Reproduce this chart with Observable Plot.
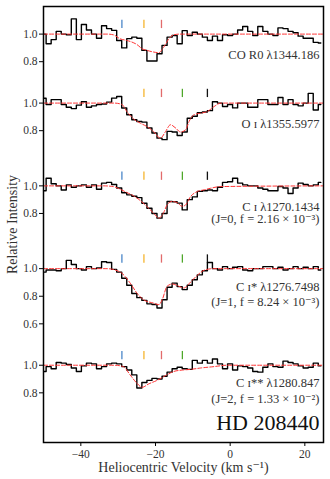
<!DOCTYPE html>
<html><head><meta charset="utf-8">
<script src="https://cdn.jsdelivr.net/npm/d3@7"></script>
<script src="https://cdn.jsdelivr.net/npm/@observablehq/plot@0.6"></script>
<style>body{margin:0;background:#fff} svg{display:block}</style>
</head><body><div id="chart"></div>
<script>
// velocity bin centres (km/s), 1.35 km/s pixels
const velocity = d3.range(56).map(i => -49.975 + 1.35 * i);

const specCO = [1.0,0.93,0.96,1.02,1.0,0.995,1.11,0.96,1.07,1.03, 1.0,0.97,1.06,1.04,1.027,0.954,0.90,0.967,0.978,0.97, 0.882,0.805,0.805,0.858,0.918,0.978,0.99,0.93,1.025,0.99, 1.013,1.0,0.978,0.954,0.985,0.954,0.995,0.99,1.0,1.03, 1.055,1.02,0.99,1.055,1.02,1.0,0.99,1.045,1.04,1.02, 1.01,0.985,0.97,0.97,0.94,0.935];
const specOI = [1.035,0.99,1.025,1.025,0.99,0.97,0.96,0.985,1.01,0.97, 0.98,0.99,0.993,1.007,1.036,1.048,0.964,0.915,0.879,0.867, 0.862,0.819,0.783,0.746,0.735,0.795,0.79,0.765,0.79,0.89, 0.905,0.93,0.935,0.945,1.01,1.0,0.975,0.99,0.965,1.0, 1.0,0.97,0.97,1.025,1.025,0.99,0.99,1.04,0.99,1.025, 0.99,0.98,1.0,1.07,0.95,0.99];
const specCI = [0.965,1.055,1.015,1.0,0.97,1.007,0.99,1.0,1.007,0.99, 1.007,0.975,1.02,1.025,1.01,0.985,0.95,0.935,0.925,0.915, 0.874,0.838,0.80,0.766,0.80,0.887,0.885,0.875,0.826,0.9, 0.92,0.96,0.965,0.97,0.965,0.99,1.025,1.03,1.055,1.02, 1.007,1.0,1.0,0.985,0.975,0.965,0.965,0.995,0.985,0.945, 0.985,1.02,1.01,1.0,1.007,1.025];
const specCIs = [0.975,0.99,0.99,0.985,1.0,1.06,1.03,1.0,0.99,1.015, 1.0,1.005,1.05,1.045,0.995,0.975,0.93,0.88,0.82,0.79, 0.77,0.745,0.74,0.715,0.775,0.865,0.895,0.87,0.848,0.88, 0.92,0.955,0.985,1.045,1.0,0.99,1.015,1.0,1.01,1.015, 0.99,0.985,1.0,1.0,1.015,1.015,1.0,1.01,0.99,1.0, 1.015,1.0,1.01,1.0,1.015,0.99];
const specCIss = [0.955,0.99,0.975,1.02,1.015,1.005,0.98,0.955,0.995,1.015, 1.01,0.975,0.99,1.01,1.015,1.01,0.99,0.965,0.93,0.835, 0.875,0.89,0.905,0.9,0.92,0.95,0.975,0.985,0.975,0.97, 1.035,1.015,1.035,1.015,1.045,1.01,0.975,1.01,0.965,0.995, 0.99,0.98,0.955,0.95,0.985,1.01,0.99,0.985,1.03,1.02, 1.01,0.995,0.98,0.985,1.015,0.995];

// model fits (velocity, intensity)
const fitCOv = [-50,-33,-31.3,-29.5,-27.7,-26.3,-24.9,-23.6,-22.3,-20.5,-19.1,-17.8,-16.4,-15.1,-13.5,25];
const fitCO  = [1,1,0.995,0.966,0.954,0.942,0.923,0.894,0.882,0.87,0.865,0.906,0.966,0.995,1,1];
const fitOIv = [-50,-31,-29.0,-27.7,-25.9,-24.1,-22.3,-20.5,-18.7,-17.3,-16.0,-14.6,-13.3,-11.9,-11.0,-9.7,-7.9,-6.1,-4.3,-2.5,25];
const fitOI  = [1,1,0.99,0.94,0.886,0.855,0.83,0.794,0.745,0.794,0.843,0.819,0.79,0.807,0.867,0.915,0.927,0.939,0.975,1,1];
const fitCIv = [-50,-34,-31.3,-29.5,-27.7,-25.9,-24.1,-22.3,-20.5,-19.1,-17.8,-16.9,-15.6,-14.2,-12.9,-12.0,-10.6,-8.8,-7.0,-5.2,-2.5,25];
const fitCI  = [1,1,0.995,0.976,0.952,0.928,0.894,0.85,0.802,0.766,0.807,0.862,0.887,0.879,0.852,0.86,0.923,0.959,0.971,0.983,0.995,1];
const fitCIsv = [-50,-33,-29.5,-26.8,-25,-23.2,-20.5,-19.1,-18.2,-16.9,-15.5,-13.7,-12.4,-10.6,-8.8,-7,-4.5,25];
const fitCIs  = [1,1,0.976,0.896,0.824,0.775,0.75,0.739,0.775,0.872,0.889,0.872,0.86,0.903,0.952,0.988,1,1];
const fitCIssv = [-50,-31,-28.6,-26.8,-25,-23.6,-21.8,-19.6,-17.3,-15.1,-12.8,-10.6,-7.9,-4.3,-1,25];
const fitCIss  = [1,1,0.99,0.93,0.87,0.84,0.865,0.89,0.925,0.955,0.965,0.97,0.98,0.99,1,1];

// velocity components
const compV = [-29.0, -23.1, -18.4, -12.8, -6.1];
const compColors = ["#4a86c8", "#f5b52e", "#e26b6b", "#4ea72a", "#111111"];

const panelOffsets = [0, 0.5, 1.1, 1.7, 2.4];
const panelLine1 = ["CO R0 λ1344.186", "O ɪ λ1355.5977", "C ɪ λ1270.1434", "C ɪ* λ1276.7498", "C ɪ** λ1280.847"];
const panelLine2 = ["", "", "(J=0, f = 2.16 × 10⁻³)", "(J=1, f = 8.24 × 10⁻³)", "(J=2, f = 1.33 × 10⁻²)"];
const panelTicks = [[1.0, 0.8], [1.0, 0.8], [1.0, 0.8], [1.0, 0.8, 0.6], [1.0, 0.8]];
const panelComps = [[0,1,2], [1,2,3,4], [0,1,2,3,4], [0,1,2,3,4], [0,1,2,3]];
const xTicks = [-40, -20, 0, 20];
const starName = "HD 208440";
const xLabel = "Heliocentric Velocity (km s⁻¹)";
const yLabel = "Relative Intensity";

const spectra = [specCO, specOI, specCI, specCIs, specCIss];
const fitsV = [fitCOv, fitOIv, fitCIv, fitCIsv, fitCIssv];
const fitsI = [fitCO, fitOI, fitCI, fitCIs, fitCIss];

const specData = spectra.flatMap((s, p) => s.map((v, i) => ({p, v: velocity[i], y: v - panelOffsets[p]})));
const fitData = fitsI.flatMap((f, p) => f.map((v, i) => ({p, v: fitsV[p][i], y: v - panelOffsets[p]})));
const compData = panelComps.flatMap((cs, p) => cs.map(c => ({p, v: compV[c], color: compColors[c], y1: 1.04 - panelOffsets[p], y2: 1.1 - panelOffsets[p]})));
const tickMap = new Map();
panelTicks.forEach((ts, p) => ts.forEach(t => tickMap.set(t - panelOffsets[p], d3.format(".1f")(t))));
const yTickPos = [...tickMap.keys()];
const lab1 = panelLine1.map((t, p) => ({t, y: (p >= 3 ? 0.87 : 0.85) - panelOffsets[p]}));
const lab2 = panelLine2.map((t, p) => ({t, y: 0.757 - panelOffsets[p]})).filter(d => d.t);

const font = "'Liberation Serif', 'DejaVu Serif', serif";
const chart = Plot.plot({
  width: 330, height: 479,
  marginLeft: 43, marginRight: 7, marginTop: 6, marginBottom: 37,
  style: {fontFamily: font, fontSize: "11px", color: "#333", background: "#fff"},
  x: {domain: [-50, 25]},
  y: {domain: [-1.96, 1.2]},
  marks: [
    Plot.axisX({ticks: xTicks, tickSize: 4, tickPadding: 3, fontSize: 11.5, label: null, stroke: "#000"}),
    Plot.axisY({ticks: yTickPos, tickFormat: d => tickMap.get(d), tickSize: 4, tickPadding: 2, fontSize: 11.5, label: null, stroke: "#000"}),
    Plot.text([xLabel], {text: d => d, frameAnchor: "bottom", lineAnchor: "middle", dy: 25, fontSize: 14, fill: "#333"}),
    Plot.text([yLabel], {text: d => d, frameAnchor: "left", rotate: -90, textAnchor: "middle", lineAnchor: "middle", dx: -31, fontSize: 14, fill: "#333"}),
    Plot.ruleX(compData, {x: "v", y1: "y1", y2: "y2", stroke: "color", strokeWidth: 1.3}),
    Plot.line(specData, {x: "v", y: "y", z: "p", curve: "step", stroke: "#000", strokeWidth: 1.4}),
    Plot.line(fitData, {x: "v", y: "y", z: "p", curve: "monotone-x", stroke: "#f33", strokeWidth: 1, strokeDasharray: "4,2"}),
    Plot.text(lab1, {y: "y", text: "t", frameAnchor: "right", textAnchor: "end", dx: -4, fontSize: 12.5, fill: "#333"}),
    Plot.text(lab2, {y: "y", text: "t", frameAnchor: "right", textAnchor: "end", dx: -4, fontSize: 12.5, fill: "#333"}),
    Plot.text([starName], {text: d => d, frameAnchor: "bottom-right", textAnchor: "end", lineAnchor: "middle", dx: -4, dy: -20, fontSize: 22, fill: "#111"}),
    Plot.frame({stroke: "#000", strokeWidth: 1.5})
  ]
});
document.getElementById("chart").appendChild(chart);
</script></body></html>
